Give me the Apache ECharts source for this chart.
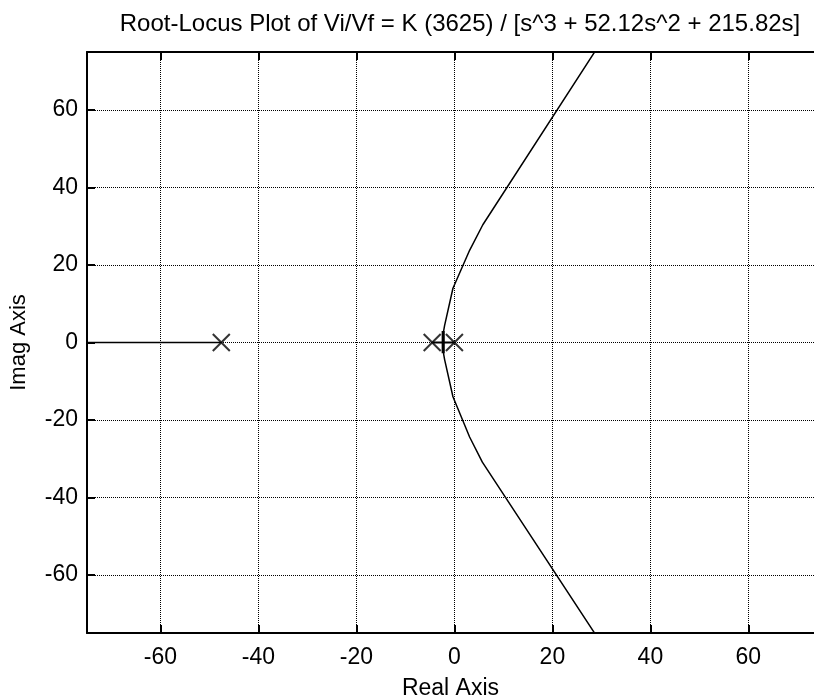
<!DOCTYPE html>
<html>
<head>
<meta charset="utf-8">
<script src="https://cdn.jsdelivr.net/npm/echarts@6/dist/echarts.min.js"></script>
<style>
  html, body { margin: 0; padding: 0; background: #fff; }
  #chart { width: 814px; height: 698px; }
</style>
</head>
<body>
<div id="chart"></div>
<script>
// root locus of K*3625 / (s^3 + 52.12 s^2 + 215.82 s)
var poles = [-47.585, -4.535, 0];
var tickVals = [-60, -40, -20, 0, 20, 40, 60];

// branch points (real, imag)
var upperBranch = [[-2.21, 0], [-2.2, 3.0], [-2.0, 4.4], [-0.3, 14.0], [3.1, 23.8], [5.8, 30.4], [30, 77.7]];
var lowerBranch = [[-2.21, 0], [-2.2, -3.0], [-2.0, -4.4], [-0.3, -14.0], [3.1, -24.4], [5.7, -30.9], [30, -77.7]];
var leftRealSeg = [[-80, 0], [-47.585, 0]];
var innerRealSeg = [[-4.535, 0], [0, 0]];
var breakawayBar = [[-2.3, -2.8], [-2.3, 2.95]];

var FONT = '"Liberation Sans", Arial, sans-serif';

var chart = echarts.init(document.getElementById('chart'));

function lineSeries(data, w) {
  return {
    type: 'line', data: data, symbol: 'none', silent: true,
    lineStyle: { color: '#000', width: w || 1.5 },
    animation: false
  };
}

// the picture is cut at the right: the x axis would end at +75 off-canvas
chart.setOption({
  backgroundColor: '#fff',
  animation: false,
  title: {
    text: 'Root-Locus Plot of Vi/Vf = K (3625) / [s^3 + 52.12s^2 + 215.82s]',
    left: 455, top: 7, textAlign: 'center',
    textStyle: { fontFamily: FONT, fontSize: 24, fontWeight: 'normal', color: '#000' }
  },
  grid: { left: 87, top: 52, right: 0, bottom: 65, show: false, outerBoundsMode: 'none', containLabel: false },
  xAxis: [{
    type: 'value', min: -75, max: 73.4,
    name: 'Real Axis', nameLocation: 'middle', nameGap: 44, nameMoveOverlap: false,
    nameTextStyle: { fontFamily: FONT, fontSize: 23, color: '#000' },
    axisLine: { show: true, onZero: false, lineStyle: { color: '#000', width: 2 } },
    axisTick: { show: true, inside: true, length: 8, lineStyle: { color: '#000', width: 2 }, customValues: tickVals },
    axisLabel: { fontFamily: FONT, fontSize: 23, color: '#000', margin: 13, customValues: tickVals },
    splitLine: { show: true, lineStyle: { color: '#000', type: 'dotted', width: 1 } }
  }, {
    type: 'value', position: 'top', min: -75, max: 73.4,
    axisLine: { show: true, onZero: false, lineStyle: { color: '#000', width: 2 } },
    axisTick: { show: true, inside: true, length: 8, lineStyle: { color: '#000', width: 2 }, customValues: tickVals },
    axisLabel: { show: false },
    splitLine: { show: false }
  }],
  yAxis: {
    type: 'value', min: -75, max: 75,
    name: 'Imag Axis', nameLocation: 'middle', nameGap: 57,
    nameTextStyle: { fontFamily: FONT, fontSize: 22, color: '#000' },
    axisLine: { show: true, onZero: false, lineStyle: { color: '#000', width: 2 } },
    axisTick: { show: true, inside: true, length: 8, lineStyle: { color: '#000', width: 2 }, customValues: tickVals },
    axisLabel: { fontFamily: FONT, fontSize: 23, color: '#000', margin: 9, customValues: tickVals },
    splitLine: { show: true, lineStyle: { color: '#000', type: 'dotted', width: 1 } }
  },
  series: [
    lineSeries(leftRealSeg, 1.5),
    lineSeries(innerRealSeg, 2),
    lineSeries(upperBranch, 1.5),
    lineSeries(lowerBranch, 1.5),
    lineSeries(breakawayBar, 3),
    {
      type: 'scatter', silent: true, animation: false,
      data: poles.map(function (p) { return [p, 0]; }),
      symbol: 'path://M0,0L10,10M10,0L0,10', symbolSize: 17,
      itemStyle: { color: 'none', borderColor: '#000', borderWidth: 2 }
    }
  ]
});
</script>
</body>
</html>
